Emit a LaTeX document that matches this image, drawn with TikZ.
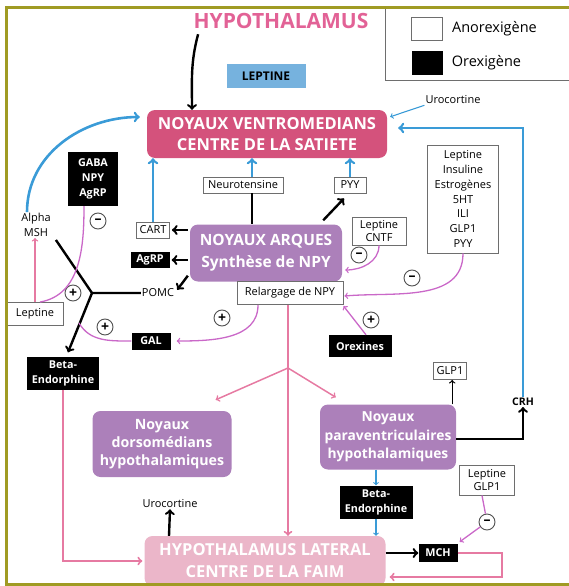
\documentclass[tikz,border=0pt]{standalone}
\usepackage{fontspec}
\setmainfont{Open Sans}
\usetikzlibrary{positioning,shapes,arrows,calc}

\definecolor{olivebord}{RGB}{160,155,35}
\definecolor{boxgray}{RGB}{110,110,110}
\definecolor{signgray}{RGB}{80,80,80}
\definecolor{titlepink}{RGB}{226,98,150}
\definecolor{vmhpink}{RGB}{212,82,124}
\definecolor{arqpurple}{RGB}{172,128,186}
\definecolor{latpink}{RGB}{235,182,201}
\definecolor{leptblue}{RGB}{118,178,222}
\definecolor{arrblue}{RGB}{58,155,215}
\definecolor{linepink}{RGB}{230,122,162}
\definecolor{curvepink}{RGB}{202,104,200}

\begin{document}
\begin{tikzpicture}[x=1pt,y=-1pt,
    whitebox/.style={draw=boxgray,fill=white,line width=0.9pt,inner sep=0pt,align=center,font=\fontsize{11}{14.7}\selectfont},
    blackbox/.style={fill=black,text=white,inner sep=0pt,align=center,font=\bfseries\fontsize{10.8}{15}\selectfont},
    lbl/.style={inner sep=1pt,align=center,font=\fontsize{11}{15}\selectfont},
    bigbox/.style={rounded corners=8pt,inner sep=0pt,align=center,text=white},
    sign/.style={circle,draw=signgray,fill=white,line width=0.9pt,minimum size=16pt,inner sep=0pt,font=\bfseries\fontsize{14}{14}\selectfont},
    bluearr/.style={draw=arrblue,line width=2.6pt,->},
    bluethin/.style={draw=arrblue,line width=1.1pt,->},
    blk/.style={line width=2.4pt},
    blkarr/.style={line width=2.4pt,->},
    pinkarr/.style={draw=linepink,line width=2pt,->},
    orch/.style={draw=curvepink,line width=1.3pt},
    orcharr/.style={orch,->}]
    \useasboundingbox (0,0) rectangle (568,586);

    % Legend
    \draw[boxgray,line width=0.9pt] (385,8) rectangle (580,80);
    \node[whitebox,minimum width=31pt,minimum height=23pt] (anorex) at (427,29) {};
    \node[lbl,right=8pt of anorex,font=\fontsize{14.5}{16}\selectfont] (anorextxt) {Anorexigène};
    \node[fill=black,minimum width=31pt,minimum height=23pt,inner sep=0pt] (orexleg) at (427,63) {};
    \node[lbl,right=8pt of orexleg,font=\fontsize{14.5}{16}\selectfont] (orextxt) {Orexigène};

    % Top part
    \node[text=titlepink,font=\bfseries\fontsize{21}{24}\selectfont] (hypo) at (281,21) {HYPOTHALAMUS};
    \node[fill=leptblue,minimum width=79pt,minimum height=24pt,inner sep=0pt,font=\bfseries\fontsize{12}{14}\selectfont] (leptine) at (266,76) {LEPTINE};
    \node[bigbox,fill=vmhpink,minimum width=240pt,minimum height=48pt,font=\bfseries\fontsize{16.5}{21}\selectfont] (vmh) at (267,134) {NOYAUX VENTROMEDIANS\\CENTRE DE LA SATIETE};
    \node[lbl] (urotop) at (453,100) {Urocortine};

    % Noyaux arques and around
    \node[bigbox,fill=arqpurple,minimum width=152pt,minimum height=57pt,font=\bfseries\fontsize{15.5}{22}\selectfont] (arques) at (266,253) {NOYAUX ARQUES\\Synthèse de NPY};
    \node[whitebox,minimum width=106pt,minimum height=23pt] (relarg) at (290,293) {Relargage de NPY};
    \node[whitebox,minimum width=80pt,minimum height=16pt] (neuro) at (243,185) {Neurotensine};
    \node[whitebox,minimum width=32pt,minimum height=16pt] (pyy) at (350,185) {PYY};
    \node[whitebox,minimum width=33pt,minimum height=16pt] (cart) at (153,230) {CART};
    \node[blackbox,minimum width=39pt,minimum height=16pt] (agrp) at (150,260) {AgRP};
    \node[lbl] (pomc) at (158,293) {POMC};
    \node[blackbox,minimum width=50pt,minimum height=54pt] (gaba) at (93,179) {GABA\\NPY\\AgRP};
    \node[lbl] (alpha) at (36,225) {Alpha\\MSH};
    \node[whitebox,minimum width=57pt,minimum height=23pt] (lepl) at (35,314) {Leptine};
    \node[blackbox,minimum width=39pt,minimum height=17pt] (gal) at (151,341) {GAL};
    \node[blackbox,minimum width=72pt,minimum height=33pt] (betal) at (63,373) {Beta-\\Endorphine};
    \node[whitebox,minimum width=54pt,minimum height=28pt,font=\fontsize{11}{13}\selectfont] (lepcntf) at (379,231) {Leptine\\CNTF};
    \node[whitebox,minimum width=71pt,minimum height=108pt] (lepbig) at (463,199) {Leptine\\Insuline\\Estrogènes\\5HT\\ILI\\GLP1\\PYY};
    \node[blackbox,minimum width=63pt,minimum height=22pt] (orex) at (360,346) {Orexines};
    \coordinate (yj) at (92,293);
    \coordinate (galend) at (79,323);
    \coordinate (fork) at (288,368);

    % Lower part
    \node[bigbox,fill=arqpurple,minimum width=139pt,minimum height=66pt,font=\bfseries\fontsize{14.2}{18}\selectfont] (dmh) at (162,444) {Noyaux\\dorsomédians\\hypothalamiques};
    \node[bigbox,fill=arqpurple,minimum width=136pt,minimum height=65pt,font=\bfseries\fontsize{13.8}{18.5}\selectfont] (pvn) at (388,437) {Noyaux\\paraventriculaires\\hypothalamiques};
    \node[whitebox,minimum width=33pt,minimum height=17pt] (glp) at (450,371) {GLP1};
    \node[lbl,font=\bfseries\fontsize{10.5}{12}\selectfont] (crh) at (523,402) {CRH};
    \node[blackbox,minimum width=73pt,minimum height=33pt] (betar) at (376,502) {Beta-\\Endorphine};
    \node[whitebox,minimum width=55pt,minimum height=30pt,font=\fontsize{11}{13}\selectfont] (lepglp) at (487,480) {Leptine\\GLP1};
    \node[blackbox,minimum width=39pt,minimum height=18pt] (mch) at (438,553) {MCH};
    \node[bigbox,fill=latpink,minimum width=241pt,minimum height=50pt,font=\bfseries\fontsize{16.5}{22}\selectfont] (lat) at (265,561) {HYPOTHALAMUS LATERAL\\CENTRE DE LA FAIM};
    \node[lbl] (urobot) at (170,504) {Urocortine};

    % Signs
    \node[sign] (mgaba) at (98,221) {–};
    \node[sign] (pleft) at (73,293) {+};
    \node[sign] (pgal) at (105,327) {+};
    \node[sign] (prel) at (222,318) {+};
    \node[sign] (mcntf) at (359,255) {–};
    \node[sign] (mbig) at (412,278) {–};
    \node[sign] (porex) at (371,320) {+};

    % Arrows to the satiety centre
    \draw[blkarr] ([xshift=8pt,yshift=-2pt]hypo.south west) to[out=-105,in=90] ([xshift=-75pt]vmh.north);
    \draw[bluethin] (urotop.south west) -- ([xshift=3pt,yshift=-7pt]vmh.north east);
    \draw[bluearr] (crh.north) |- ([xshift=11pt,yshift=6pt]vmh.east);
    \draw[bluearr] ([xshift=-9pt]alpha.north) to[out=90,in=180] ([xshift=-7pt,yshift=17pt]vmh.west);
    \draw[bluearr] (cart.north) -- (cart.north |- vmh.south);
    \draw[bluearr] ([xshift=9pt]neuro.north) -- ([xshift=9pt]neuro.north |- vmh.south);
    \draw[bluearr] (pyy.north) -- (pyy.north |- vmh.south);

    % Arrows of the arcuate nuclei
    \draw[blk] ([xshift=9pt]neuro.south) -- ([xshift=9pt]neuro.south |- arques.north);
    \draw[blkarr] ([xshift=-19pt,yshift=4pt]arques.north east) -- ([xshift=-6pt,yshift=-5pt]pyy.south);
    \draw[blkarr] ([xshift=-2pt]arques.west |- cart.east) -- ([xshift=2pt]cart.east);
    \draw[blkarr] ([xshift=-2pt]arques.west |- agrp.east) -- ([xshift=2pt]agrp.east);
    \draw[blkarr] ([xshift=-2pt,yshift=6pt]arques.south west) -- ([xshift=2pt,yshift=-2pt]pomc.north east);
    \draw[blk] ([xshift=4pt,yshift=-2pt]alpha.south east) -- (yj) -- (pomc.west);
    \draw[blkarr] (yj) -- ([xshift=5pt,yshift=4pt]betal.north);
    \draw[pinkarr,line width=1.3pt] (lepl.north) -- (lepl.north |- alpha.south);
    \draw[orch] ([xshift=-9pt]gaba.south) to[out=-90,in=10] ([xshift=5pt]lepl.north);
    \draw[orch] (gal.west) to[out=180,in=-60] (galend);
    \draw[orcharr] ([xshift=-32pt]relarg.south) to[out=-90,in=0] ([xshift=6pt]gal.east);
    \draw[orcharr] (lepcntf.south) to[out=-90,in=0] ([xshift=3pt,yshift=-17pt]arques.east);
    \draw[orcharr] (lepbig.south) to[out=-90,in=5] ([xshift=1pt,yshift=-3pt]relarg.east);
    \draw[orcharr] ([xshift=6pt]orex.north) -- ([yshift=-1pt]relarg.south east);

    % Towards the lateral hypothalamus
    \draw[pinkarr] ([xshift=-2pt]relarg.south) -- ([xshift=-2pt]relarg.south |- lat.north);
    \draw[pinkarr,line width=1.5pt] (fork) -- ([xshift=-16pt,yshift=11pt]dmh.north east);
    \draw[pinkarr,line width=1.5pt] (fork) -- ([xshift=16pt,yshift=7pt]pvn.north west);
    \draw[pinkarr] (betal.south) |- ([xshift=-2pt]lat.west);
    \draw[->,line width=1.3pt] ([xshift=-4pt]pvn.north east) -- ([xshift=-4pt]pvn.north east |- glp.south);
    \draw[blkarr] ([yshift=-2pt]pvn.east) -| (crh.south);
    \draw[bluethin] (betar.north |- pvn.south) -- (betar.north);
    \draw[bluethin] (betar.south) -- (betar.south |- lat.north);
    \draw[blkarr] ([xshift=-1pt]lat.north -| urobot) -- (urobot.south);
    \draw[blkarr] (mch.west -| lat.east) -- (mch.west);
    \draw[pinkarr] (mch.east) -- ++(44,0) |- ([xshift=4pt,yshift=-16pt]lat.east);
    \node[sign] (mglp) at (487,522) {–};
    \draw[orch] ([xshift=-5pt]lepglp.south) -- (mglp);
    \draw[orcharr] (mglp) -- ([xshift=2pt,yshift=2pt]mch.north east);

    % Frame
    \draw[olivebord,line width=3pt] (570,8) -- (6,8) -- (6,584) -- (570,584);
\end{tikzpicture}
\end{document}
